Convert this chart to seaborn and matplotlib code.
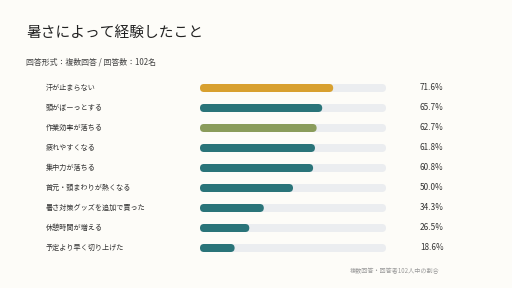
import pandas as pd
import seaborn as sns
import matplotlib.pyplot as plt
from matplotlib.patches import FancyBboxPatch
from matplotlib.transforms import blended_transform_factory

# Data
labels = ['汗が止まらない', '頭がぼーっとする', '作業効率が落ちる', '疲れやすくなる', '集中力が落ちる',
          '首元・頭まわりが熱くなる', '暑さ対策グッズを追加で買った', '休憩時間が増える', '予定より早く切り上げた']
values = [71.6, 65.7, 62.7, 61.8, 60.8, 50.0, 34.3, 26.5, 18.6]
bar_colors = ['#D8A02F', '#2A7479', '#8A9C5B', '#2A7479', '#2A7479',
              '#2A7479', '#2A7479', '#2A7479', '#2A7479']

title = '暑さによって経験したこと'
subtitle = '回答形式：複数回答 / 回答数：102名'
footnote = '複数回答・回答者102人中の割合'

def round_bars(ax, patches, px_per_x, px_per_y, radius_px=4):
    # swap the plain rectangles for pill shaped ones
    rsize = radius_px / px_per_x
    aspect = px_per_x / px_per_y
    for p in list(patches):
        x, y = p.get_x(), p.get_y()
        w, h = p.get_width(), p.get_height()
        fb = FancyBboxPatch((x, y), w, h,
                            boxstyle=f'round,pad=0,rounding_size={rsize}',
                            mutation_aspect=aspect,
                            facecolor=p.get_facecolor(), edgecolor='none',
                            zorder=p.get_zorder())
        p.remove()
        ax.add_patch(fb)

def main():
    sns.set_style('white')
    plt.rcParams['font.family'] = ['Noto Sans CJK JP', 'DejaVu Sans']

    df = pd.DataFrame({'label': labels, 'value': values, 'track': [100] * len(labels)})

    bg = '#FDFCF8'
    fig = plt.figure(figsize=(5.12, 2.88), dpi=100, facecolor=bg)
    # axes: x 0-100 maps to pixel 200..386, rows centered at 88..248
    ax = fig.add_axes([200 / 512, 1 - 258 / 288, 186 / 512, 180 / 288])
    ax.set_facecolor(bg)

    sns.barplot(data=df, x='track', y='label', color='#EBEDF0', width=0.4,
                saturation=1, ax=ax, order=labels)
    n_track = len(ax.patches)
    sns.barplot(data=df, x='value', y='label', hue='label', palette=bar_colors,
                width=0.4, saturation=1, legend=False, ax=ax, order=labels)

    ax.set_xlim(0, 100)
    ax.set_ylim(len(labels) - 0.5, -0.5)

    px_per_x = 186 / 100
    px_per_y = 20
    track_patches = ax.patches[:n_track]
    bar_patches = ax.patches[n_track:]
    for p in track_patches:
        p.set_zorder(1)
    for p in bar_patches:
        p.set_zorder(2)
    round_bars(ax, track_patches + bar_patches, px_per_x, px_per_y)

    for s in ax.spines.values():
        s.set_visible(False)
    ax.set_xticks([])
    ax.set_yticks([])
    ax.set_xlabel('')
    ax.set_ylabel('')

    trans = blended_transform_factory(fig.transFigure, ax.transData)
    for i, (lab, val) in enumerate(zip(labels, values)):
        ax.text(46 / 512, i, lab, transform=trans, ha='left', va='center',
                fontsize=5.1, color='#333333')
        ax.text(420 / 512, i, f'{val:.1f}%', transform=trans, ha='left', va='center',
                fontsize=5.9, color='#333333')

    fig.text(26 / 512, 1 - 33 / 288, title, fontsize=10.6, color='#222222',
             ha='left', va='center')
    fig.text(26 / 512, 1 - 62 / 288, subtitle, fontsize=5.7, color='#444444',
             ha='left', va='center')
    fig.text(440 / 512, 1 - 271 / 288, footnote, fontsize=4.4, color='#9A9A9A',
             ha='right', va='center')

    fig.savefig('out.png', dpi=100, facecolor=bg)
    plt.close(fig)

if __name__ == '__main__':
    main()
